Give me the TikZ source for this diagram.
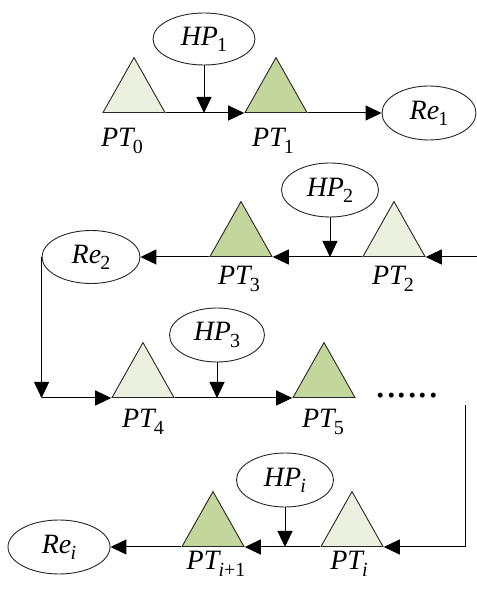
\documentclass[tikz,border=0pt]{standalone}
\usepackage{fontspec}
\setmainfont{Liberation Serif}
\newfontfamily\labfont{Liberation Serif}[ItalicFont={Liberation Serif Italic}]
\usetikzlibrary{shapes.geometric,arrows.meta}

% italic name with a lowered upright subscript
\newcommand{\sub}[2]{{\itshape #1}\kern-0.03em\raisebox{-0.22em}{\fontsize{20pt}{20pt}\selectfont #2}}

\definecolor{paleGreen}{HTML}{EBF1DE}
\definecolor{deepGreen}{HTML}{C3D69B}

\tikzset{
  tri/.style={isosceles triangle, shape border rotate=90,
    isosceles triangle stretches, minimum width=62pt, minimum height=55pt,
    inner sep=0pt, draw=black!85, line width=0.9pt, anchor=lower side},
  pale/.style={tri, fill=paleGreen},
  deep/.style={tri, fill=deepGreen},
  oval/.style={ellipse, draw=black!85, line width=0.9pt, inner sep=0pt,
    minimum width=97pt, minimum height=54pt,
    font=\labfont\fontsize{28pt}{28pt}\selectfont},
  lab/.style={anchor=base, inner sep=0pt,
    font=\labfont\fontsize{28pt}{28pt}\selectfont},
  arr/.style={line width=1pt, -{Triangle[length=16pt,width=15pt]}},
  ln/.style={line width=1pt}
}

\begin{document}
\begin{tikzpicture}[x=1pt,y=1pt]
\useasboundingbox (0,0) rectangle (477,590);

% row 1
\node[pale] (pt0) at (134,477) {};
\node[deep] (pt1) at (276,477) {};
\node[oval, minimum width=102pt, minimum height=52pt] (hp1) at (204,551) {\sub{HP}{1}};
\node[oval, minimum width=94pt] (re1) at (429,477) {\sub{Re}{1}};
\node[lab] (l0) at (122,443) {\sub{PT}{0}};
\node[lab] (l1) at (273,443) {\sub{PT}{1}};
\draw[arr] (pt0.right corner) -- (pt1.left corner);
\draw[arr] (pt1.right corner) -- (re1.west);
\draw[arr] (hp1.south) -- (hp1.south |- pt0.lower side);

% row 2
\node[pale] (pt2) at (394,333) {};
\node[deep] (pt3) at (241,333) {};
\node[oval] (hp2) at (330,400) {\sub{HP}{2}};
\node[oval, minimum width=98pt, minimum height=53pt] (re2) at (91,333) {\sub{Re}{2}};
\node[lab] (l3) at (239,305) {\sub{PT}{3}};
\node[lab] (l2) at (393,305) {\sub{PT}{2}};
\coordinate (in2) at (477,333);
\draw[arr] (in2) -- (pt2.right corner);
\draw[arr] (pt2.left corner) -- (pt3.right corner);
\draw[arr] (pt3.left corner) -- (re2.east);
\draw[arr] (hp2.south) -- (hp2.south |- pt2.lower side);

% row 3
\node[pale] (pt4) at (143,192) {};
\node[deep] (pt5) at (324,192) {};
\node[oval, minimum width=95pt] (hp3) at (217,255) {\sub{HP}{3}};
\node[lab] (l4) at (143,162) {\sub{PT}{4}};
\node[lab] (l5) at (323,162) {\sub{PT}{5}};
\node[anchor=base, inner sep=0pt, font=\labfont\fontsize{42pt}{42pt}\selectfont] (dots) at (407,192) {......};
\coordinate (c3) at (re2.west |- pt4.lower side);
\draw[arr] (re2.west) -- (c3);
\draw[arr] (c3) -- (pt4.left corner);
\draw[arr] (pt4.right corner) -- (pt5.left corner);
\draw[arr] (hp3.south) -- (hp3.south |- pt4.lower side);

% row 4
\node[pale] (pti) at (352,43) {};
\node[deep] (ptj) at (213,43) {};
\node[oval] (hpi) at (285,110) {\sub{HP}{\itshape i}};
\node[oval, minimum width=102pt] (rei) at (59,43) {\sub{Re}{\itshape i}};
\node[lab] (lj) at (216,20) {\sub{PT}{{\itshape i}+1}};
\node[lab] (li) at (349,20) {\sub{PT}{\itshape i}};
\coordinate (c4a) at (465,185);
\coordinate (c4b) at (c4a |- pti.lower side);
\draw[ln] (c4a) -- (c4b);
\draw[arr] (c4b) -- (pti.right corner);
\draw[arr] (pti.left corner) -- (ptj.right corner);
\draw[arr] (ptj.left corner) -- (rei.east);
\draw[arr] (hpi.south) -- (hpi.south |- pti.lower side);
\end{tikzpicture}
\end{document}
